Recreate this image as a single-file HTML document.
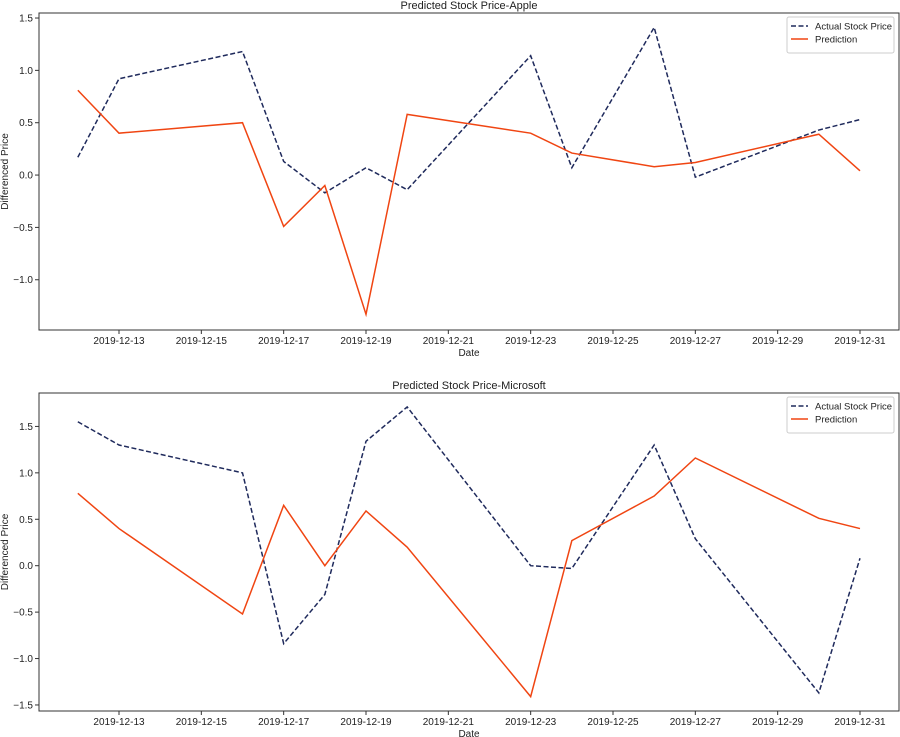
<!DOCTYPE html>
<html><head><meta charset="utf-8"><style>
body{margin:0;background:#fff}
svg{display:block;font-family:"Liberation Sans","DejaVu Sans",sans-serif;font-size:10px;fill:#222}
</style></head><body>
<svg id="c" width="900" height="737"></svg>
<script>
const dates=["2019-12-12","2019-12-13","2019-12-16","2019-12-17","2019-12-18","2019-12-19","2019-12-20","2019-12-23","2019-12-24","2019-12-26","2019-12-27","2019-12-30","2019-12-31"];
const tickLabels=["2019-12-13","2019-12-15","2019-12-17","2019-12-19","2019-12-21","2019-12-23","2019-12-25","2019-12-27","2019-12-29","2019-12-31"];
const appleActual=[0.17,0.92,1.18,0.13,-0.17,0.07,-0.14,1.14,0.07,1.41,-0.02,0.43,0.53];
const applePred=[0.81,0.40,0.50,-0.49,-0.10,-1.33,0.58,0.40,0.21,0.08,0.12,0.39,0.04];
const msftActual=[1.55,1.30,1.00,-0.84,-0.31,1.34,1.71,0.00,-0.03,1.30,0.29,-1.37,0.08];
const msftPred=[0.78,0.40,-0.52,0.65,0.00,0.59,0.20,-1.41,0.27,0.75,1.16,0.51,0.40];
const appleYTicks=[-1.0,-0.5,0.0,0.5,1.0,1.5];
const msftYTicks=[-1.5,-1.0,-0.5,0.0,0.5,1.0,1.5];
const svg=document.getElementById('c');const NS='http://www.w3.org/2000/svg';
function mk(t,a,p){const e=document.createElementNS(NS,t);for(const k in a)e.setAttribute(k,a[k]);(p||svg).appendChild(e);return e;}
const day=d=>Date.parse(d)/864e5;
const d0=day("2019-12-13"),d1=day("2019-12-31");
const xs=d=>119+(day(d)-d0)*(860-119)/(d1-d0);
function panel(name,title,top,bot,yTop,yBot,yt,act,pred){
  const g=mk('g',{});
  const ys=v=>top+(yTop-v)*(bot-top)/(yTop-yBot);
  const L=39,R=899;
  const t=mk('text',{x:(L+R)/2,y:top-4,'text-anchor':'middle','font-size':'11'},g);t.textContent=title;
  
  yt.forEach(v=>{const y=ys(v);mk('line',{x1:L-4,x2:L,y1:y,y2:y,stroke:'#333'},g);
    const tx=mk('text',{x:L-6,y:y+3.5,'text-anchor':'end'},g);tx.textContent=(v<0?'\u2212':'')+Math.abs(v).toFixed(1);
    });
  tickLabels.forEach(d=>{const x=xs(d);mk('line',{x1:x,x2:x,y1:bot,y2:bot+4,stroke:'#333'},g);
    const tx=mk('text',{x:x,y:bot+14,'text-anchor':'middle'},g);tx.textContent=d;
    });
  const xl=mk('text',{x:(L+R)/2,y:bot+26,'text-anchor':'middle'},g);xl.textContent='Date';
  
  const yl=mk('text',{x:0,y:0,'text-anchor':'middle',transform:`translate(8,${(top+bot)/2}) rotate(-90)`},g);yl.textContent='Differenced Price';
  
  const pa=mk('polyline',{points:dates.map((d,i)=>xs(d)+','+ys(act[i])).join(' '),fill:'none',stroke:'#1f2a5c','stroke-width':1.5,'stroke-dasharray':'5,2.5'},g);
  
  const pp=mk('polyline',{points:dates.map((d,i)=>xs(d)+','+ys(pred[i])).join(' '),fill:'none',stroke:'#f04512','stroke-width':1.5},g);
  
  mk('rect',{x:L,y:top,width:R-L,height:bot-top,fill:'none',stroke:'#333','stroke-width':1},g);
  const lg=mk('g',{},g);
  mk('rect',{x:787,y:top+4,width:107,height:36,fill:'#fff',stroke:'#ccc',rx:2},lg);
  mk('line',{x1:791,x2:808,y1:top+13,y2:top+13,stroke:'#1f2a5c','stroke-width':1.5,'stroke-dasharray':'5,2.5'},lg);
  mk('line',{x1:791,x2:808,y1:top+26,y2:top+26,stroke:'#f04512','stroke-width':1.5},lg);
  const a=mk('text',{x:815,y:top+16.5,'font-size':'9.5'},lg);a.textContent='Actual Stock Price';
  const b=mk('text',{x:815,y:top+29.5,'font-size':'9.5'},lg);b.textContent='Prediction';
}
panel('apple','Predicted Stock Price-Apple',13,330,1.548,-1.48,appleYTicks,appleActual,applePred);
panel('microsoft','Predicted Stock Price-Microsoft',393,711,1.86,-1.565,msftYTicks,msftActual,msftPred);
</script>
</body></html>
